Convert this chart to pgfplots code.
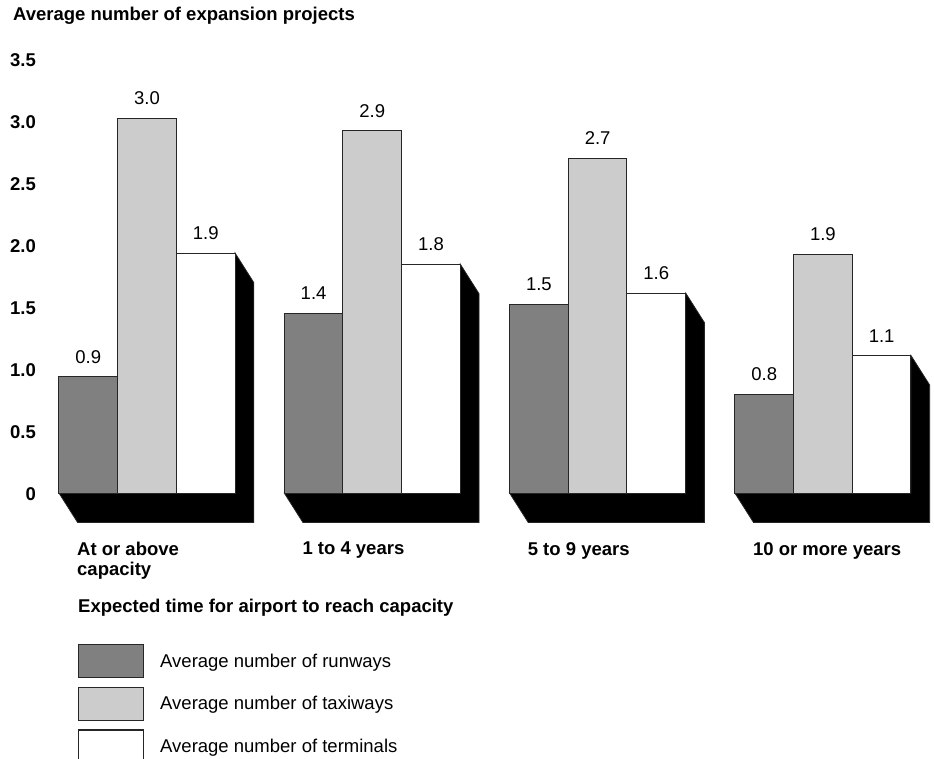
\documentclass[border=0pt]{standalone}
\usepackage{fontspec}
\setmainfont{Liberation Sans}
\usepackage{pgfplots}
\pgfplotsset{compat=1.18}
\newcommand\fs{\fontsize{18.5}{20}\selectfont}
\definecolor{runw}{HTML}{808080}
\definecolor{taxi}{HTML}{CCCCCC}
\begin{document}
\begin{tikzpicture}[x=1pt,y=1pt]
\useasboundingbox[fill=white] (0,0) rectangle (934,-758);
\begin{axis}[
  x=225.3pt, y=125pt,
  anchor=south west, at={(34.35pt,-542pt)},
  xmin=-0.5, xmax=3.5, ymin=-0.392, ymax=3.6,
  clip=false,
  axis line style={draw=none},
  major tick length=0pt,
  /pgf/number format/assume math mode=true,
  ytick={-0.008,0.488,0.984,1.48,1.976,2.472,2.968,3.464},
  yticklabels={0,0.5,1.0,1.5,2.0,2.5,3.0,3.5},
  yticklabel style={anchor=east, inner sep=0pt, xshift=1.65pt, font=\fs\bfseries},
  xtick={0,1,2,3},
  xticklabels={{At or above\\capacity},{1 to 4 years},{5 to 9 years},{10 or more years}},
  xticklabel style={anchor=north west, inner sep=0pt, xshift=-70pt, align=left, font=\fs\bfseries},
  legend style={draw=none, fill=none, at={(0.04844,-0.2044)}, anchor=north west,
    inner sep=0pt, outer sep=0pt, row sep=8.5pt, font=\fs,
    nodes={inner sep=0pt},
    /tikz/every odd column/.append style={column sep=16pt}},
  legend cell align=left,
  legend image code/.code={\draw[#1, line width=1.2pt, draw=black!85] (0pt,-16.5pt) rectangle (65pt,16.5pt);},
  every node near coord/.append style={anchor=base, yshift=13.5pt, font=\fs, inner sep=0pt},
]
% shadows (3D side and base)
\addplot[fill=black, draw=black!85, line width=0.8pt, forget plot] coordinates
  {(-0.3908,0) (-0.3078,-0.236) (0.4738,-0.236) (0.4738,1.684) (0.3908,1.92) (0.3908,0)} -- cycle;
\addplot[fill=black, draw=black!85, line width=0.8pt, forget plot] coordinates
  {(0.6092,0) (0.6922,-0.236) (1.4738,-0.236) (1.4738,1.594) (1.3908,1.83) (1.3908,0)} -- cycle;
\addplot[fill=black, draw=black!85, line width=0.8pt, forget plot] coordinates
  {(1.6092,0) (1.6922,-0.236) (2.4738,-0.236) (2.4738,1.364) (2.3908,1.60) (2.3908,0)} -- cycle;
\addplot[fill=black, draw=black!85, line width=0.8pt, forget plot] coordinates
  {(2.6092,0) (2.6922,-0.236) (3.4738,-0.236) (3.4738,0.864) (3.3908,1.10) (3.3908,0)} -- cycle;
% bars
\addplot[ybar, bar width=0.2605, bar shift=-0.2605, fill=runw, draw=black!85, line width=1pt,
  every node near coord/.append style={xshift=-58.7pt},
  nodes near coords={\pgfmathprintnumber[fixed,fixed zerofill,precision=1]{\pgfplotspointmeta}}]
  coordinates {(0,0.93) (1,1.44) (2,1.51) (3,0.79)};
\addlegendentry{Average number of runways}
\addplot[ybar, bar width=0.2605, bar shift=0, fill=taxi, draw=black!85, line width=1pt,
  nodes near coords={\pgfmathprintnumber[fixed,fixed zerofill,precision=1]{\pgfplotspointmeta}}]
  coordinates {(0,3.00) (1,2.90) (2,2.68) (3,1.91)};
\addlegendentry{Average number of taxiways}
\addplot[ybar, bar width=0.2605, bar shift=0.2605, fill=white, draw=black!85, line width=1pt,
  every node near coord/.append style={xshift=58.7pt},
  nodes near coords={\pgfmathprintnumber[fixed,fixed zerofill,precision=1]{\pgfplotspointmeta}}]
  coordinates {(0,1.92) (1,1.83) (2,1.60) (3,1.10)};
\addlegendentry{Average number of terminals}
\end{axis}
\node[anchor=base west, inner sep=0pt, font=\fs\bfseries] at (13,-20) {Average number of expansion projects};
\node[anchor=base west, inner sep=0pt, font=\fs\bfseries] at (78,-612) {Expected time for airport to reach capacity};
\end{tikzpicture}
\end{document}
